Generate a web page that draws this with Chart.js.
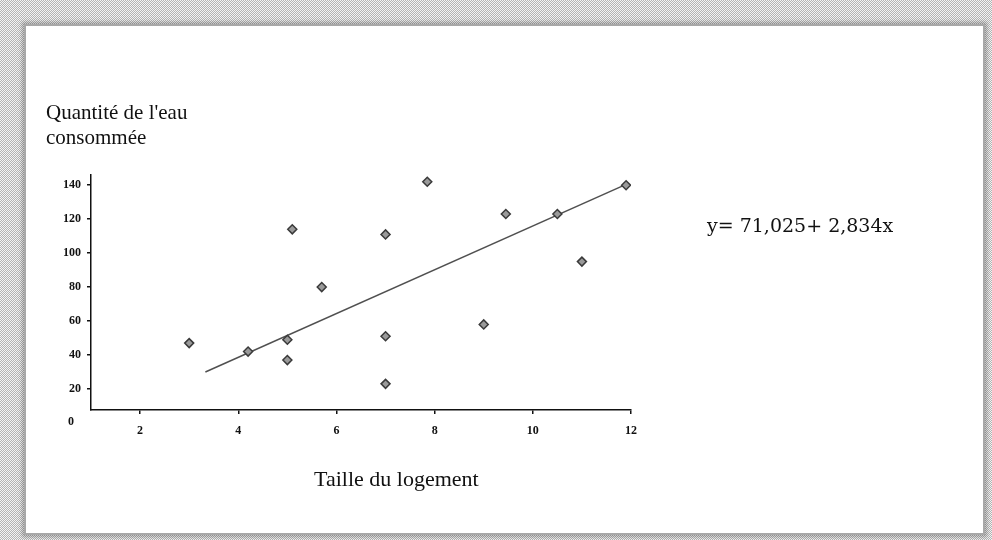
<!DOCTYPE html>
<html>
<head>
<meta charset="utf-8">
<script src="https://cdn.jsdelivr.net/npm/chart.js@4"></script>
<style>
  html, body {
    margin: 0;
    padding: 0;
    width: 992px;
    height: 540px;
    overflow: hidden;
  }
  body {
    position: relative;
    background: repeating-conic-gradient(#b4b4b4 0 25%, #f4f4f4 0 50%) 0 0 / 2px 2px;
    font-family: 'Liberation Serif', 'Times New Roman', serif;
  }
  .panel {
    position: absolute;
    left: 24px;
    top: 24px;
    width: 957px;
    height: 507px;
    background: #fff;
    border: 2px solid #a8a8a8;
    box-shadow: 0 0 4px 2px rgba(0, 0, 0, 0.25);
  }
  canvas {
    position: absolute;
    left: 0;
    top: 0;
  }
  .txt {
    position: absolute;
    color: #111;
    white-space: nowrap;
  }
  .ytitle {
    left: 46px;
    top: 100px;
    font-size: 21px;
    line-height: 25px;
  }
  .xtitle {
    left: 314px;
    top: 466px;
    font-size: 22px;
    line-height: 25px;
  }
  .eq {
    left: 707px;
    top: 214px;
    font-family: 'DejaVu Serif', serif;
    font-size: 19px;
    line-height: 22px;
  }
  .zero {
    left: 68px;
    top: 414px;
    font-size: 12px;
    font-weight: bold;
  }
</style>
</head>
<body>
<div class="panel"></div>
<canvas id="chart" width="992" height="540"></canvas>
<div class="txt ytitle">Quantité de l'eau<br>consommée</div>
<div class="txt xtitle">Taille du logement</div>
<div class="txt eq">y= 71,025+ 2,834x</div>
<div class="txt zero">0</div>
<script>
// observations (taille du logement, quantité d'eau)
const tailles = [3, 4.2, 5, 5, 5.1, 5.7, 7, 7, 7, 7.85, 9, 9.45, 10.5, 11, 11.9];
const quantites = [47, 42, 49, 37, 114, 80, 111, 51, 23, 142, 58, 123, 123, 95, 140];

// droite de régression telle que tracée
const droiteX = [3.33, 11.9];
const droiteY = [30, 140.5];

const xTicks = [2, 4, 6, 8, 10, 12];
const yTicks = [20, 40, 60, 80, 100, 120, 140];

const points = tailles.map((x, i) => ({ x: x, y: quantites[i] }));
const droite = droiteX.map((x, i) => ({ x: x, y: droiteY[i] }));

const tickFont = { family: 'Liberation Serif', size: 12, weight: 'bold' };

new Chart(document.getElementById('chart').getContext('2d'), {
    type: 'scatter',
    data: {
        datasets: [
            {
                data: points,
                pointStyle: 'rectRot',
                pointRadius: 4.5,
                pointHoverRadius: 4.5,
                backgroundColor: '#9a9a9a',
                borderColor: '#3a3a3a',
                borderWidth: 1.5
            },
            {
                type: 'line',
                data: droite,
                borderColor: '#505050',
                borderWidth: 1.5,
                pointRadius: 0,
                fill: false
            }
        ]
    },
    options: {
        responsive: false,
        animation: false,
        events: [],
        layout: {
            padding: { left: 0, top: 175, right: 361, bottom: 100 }
        },
        plugins: {
            legend: { display: false },
            tooltip: { enabled: false }
        },
        scales: {
            x: {
                type: 'linear',
                min: 1,
                max: 12,
                afterBuildTicks: (scale) => {
                    scale.ticks = xTicks.map(v => ({ value: v }))
                },
                afterFit: (scale) => { scale.height = 30 },
                border: { display: true, color: '#111', width: 1.5 },
                grid: { display: true, drawOnChartArea: false, drawTicks: true, tickLength: 4, color: '#111', lineWidth: 1.5 },
                ticks: { color: '#111', font: tickFont, padding: 10 }
            },
            y: {
                type: 'linear',
                min: 7.6,
                max: 146,
                afterBuildTicks: (scale) => {
                    scale.ticks = yTicks.map(v => ({ value: v }))
                },
                afterFit: (scale) => { scale.width = 91 },
                border: { display: true, color: '#111', width: 1.5 },
                grid: { display: true, drawOnChartArea: false, drawTicks: true, tickLength: 4, color: '#111', lineWidth: 1.5 },
                ticks: { color: '#111', font: tickFont, padding: 6 }
            }
        }
    }
})
</script>
</body>
</html>
